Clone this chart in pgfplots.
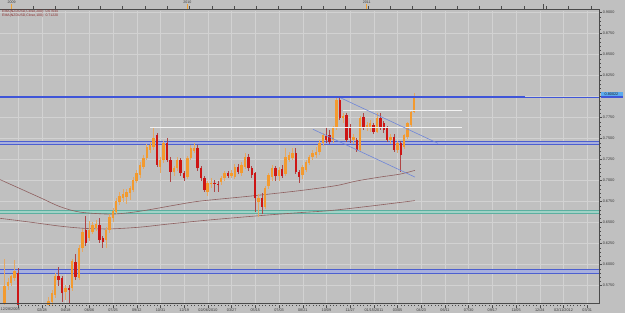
\documentclass[border=0pt]{standalone}
\usepackage{fontspec}
\setmainfont{Liberation Sans}
\usepackage{pgfplots}
\pgfplotsset{compat=1.18}
\usepackage{pgfplotstable}
\definecolor{bgc}{HTML}{C0C0C0}
\definecolor{gridc}{HTML}{D2D2D2}
\definecolor{framec}{HTML}{4A4A4A}
\definecolor{labc}{HTML}{3A3A3A}
\definecolor{bodybull}{HTML}{F39A2E}
\definecolor{wickbull}{HTML}{E6A862}
\definecolor{bodybear}{HTML}{CD1515}
\definecolor{wickbear}{HTML}{B04545}
\definecolor{mac}{HTML}{8E5F5F}
\definecolor{chanc}{HTML}{6F86D9}
\definecolor{bandline}{HTML}{4C5FD0}
\definecolor{bandfill}{HTML}{A8B0DD}
\definecolor{tealline}{HTML}{5CAFA0}
\definecolor{tealfill}{HTML}{A0D2C6}
\definecolor{thickblue}{HTML}{3F55D8}
\definecolor{whitel}{HTML}{F2F2F2}
\definecolor{legc}{HTML}{8A2B2B}
\definecolor{yearc}{HTML}{F0A030}
\definecolor{pricebox}{HTML}{5AAAEE}

\pgfplotstableread{
k o h l c
0 0.553 0.607 0.548 0.574
1 0.574 0.584 0.570 0.579
2 0.578 0.588 0.574 0.586
3 0.584 0.606 0.580 0.592
6 0.515 0.530 0.505 0.525
8 0.505 0.520 0.495 0.510
10 0.500 0.525 0.490 0.520
11 0.520 0.540 0.515 0.535
12 0.535 0.550 0.530 0.545
13 0.545 0.562 0.540 0.557
14 0.556 0.570 0.550 0.566
15 0.564 0.590 0.560 0.5865
18 0.5679 0.576 0.558 0.5726
20 0.5718 0.607 0.568 0.6044
22 0.5845 0.623 0.582 0.6202
23 0.6194 0.642 0.615 0.6393
25 0.6313 0.652 0.628 0.6413
26 0.6393 0.651 0.636 0.6473
27 0.6440 0.653 0.640 0.6480
30 0.6294 0.645 0.620 0.6413
31 0.6413 0.660 0.638 0.6571
32 0.6550 0.667 0.651 0.6640
33 0.6630 0.679 0.660 0.6760
34 0.6750 0.686 0.671 0.6820
35 0.6790 0.690 0.674 0.6840
36 0.6810 0.690 0.672 0.6870
37 0.6850 0.694 0.677 0.6910
38 0.6890 0.704 0.686 0.7010
39 0.7000 0.713 0.697 0.7090
40 0.7068 0.722 0.703 0.7187
41 0.7167 0.730 0.714 0.7266
42 0.7270 0.743 0.724 0.7400
43 0.7365 0.746 0.733 0.7425
44 0.7405 0.7631 0.737 0.7512
46 0.7167 0.728 0.7087 0.7246
47 0.7246 0.747 0.721 0.7444
50 0.7107 0.717 0.705 0.7147
51 0.7147 0.728 0.712 0.7246
54 0.7048 0.729 0.702 0.7266
55 0.7266 0.742 0.724 0.7385
56 0.7350 0.745 0.733 0.7390
60 0.6869 0.700 0.682 0.6968
61 0.6955 0.703 0.691 0.6975
64 0.6988 0.706 0.695 0.7027
65 0.7027 0.712 0.700 0.7087
67 0.7060 0.713 0.703 0.7090
68 0.7048 0.720 0.702 0.7167
70 0.7087 0.722 0.706 0.7187
71 0.7167 0.7325 0.714 0.7286
75 0.6740 0.684 0.657 0.6789
77 0.6690 0.694 0.666 0.6909
78 0.6930 0.709 0.690 0.7068
79 0.7048 0.718 0.700 0.7147
81 0.7050 0.716 0.700 0.7130
83 0.7080 0.7385 0.706 0.7286
84 0.7246 0.734 0.722 0.7306
85 0.7266 0.739 0.724 0.7325
88 0.7068 0.719 0.702 0.7167
89 0.7127 0.725 0.710 0.7226
90 0.7206 0.731 0.718 0.7286
91 0.7286 0.737 0.725 0.7330
92 0.7310 0.740 0.727 0.7345
93 0.7345 0.748 0.731 0.7444
94 0.7444 0.7563 0.741 0.7544
97 0.7484 0.765 0.745 0.7623
98 0.7623 0.7988 0.760 0.7960
100 0.7742 0.781 0.768 0.7770
103 0.7484 0.756 0.744 0.7524
105 0.7365 0.777 0.735 0.7742
107 0.7623 0.770 0.759 0.7663
108 0.7623 0.772 0.758 0.7682
110 0.7583 0.7802 0.757 0.7742
114 0.7484 0.755 0.744 0.7520
116 0.7365 0.747 0.733 0.7444
118 0.7405 0.756 0.738 0.7544
119 0.7524 0.770 0.750 0.7682
120 0.7663 0.784 0.764 0.7821
121 0.7821 0.8042 0.780 0.7980
}\bull

\pgfplotstableread{
k o h l c
4 0.590 0.596 0.530 0.536
5 0.536 0.545 0.505 0.515
7 0.525 0.530 0.500 0.505
9 0.510 0.515 0.490 0.500
16 0.5865 0.597 0.575 0.5817
17 0.5837 0.586 0.556 0.5658
19 0.5726 0.576 0.554 0.5700
21 0.6036 0.6123 0.582 0.5857
24 0.6413 0.658 0.622 0.6254
28 0.6473 0.655 0.626 0.6294
29 0.6313 0.634 0.620 0.6274
45 0.7544 0.757 0.716 0.7187
48 0.7444 0.7504 0.722 0.7246
49 0.7246 0.728 0.6988 0.7107
52 0.7246 0.727 0.706 0.7087
53 0.7087 0.712 0.699 0.7030
57 0.7393 0.742 0.712 0.7147
58 0.7147 0.717 0.699 0.7027
59 0.7027 0.705 0.686 0.6889
62 0.6975 0.701 0.686 0.6960
63 0.6965 0.700 0.686 0.6950
66 0.7087 0.711 0.703 0.7060
69 0.7167 0.720 0.708 0.7107
72 0.7286 0.732 0.712 0.7147
73 0.7147 0.717 0.703 0.7068
74 0.7087 0.7105 0.663 0.6789
76 0.6789 0.685 0.660 0.6690
80 0.7147 0.717 0.700 0.7060
82 0.7140 0.718 0.703 0.7060
86 0.7325 0.7385 0.708 0.7107
87 0.7107 0.713 0.697 0.7048
95 0.7532 0.7643 0.7444 0.7484
96 0.7544 0.760 0.743 0.7464
99 0.7960 0.7985 0.772 0.7742
101 0.7782 0.780 0.746 0.7484
102 0.7643 0.767 0.745 0.7504
104 0.7484 0.751 0.734 0.7365
106 0.7762 0.781 0.760 0.7623
109 0.7663 0.769 0.755 0.7583
111 0.7742 0.7802 0.760 0.7623
112 0.7682 0.771 0.757 0.7603
113 0.7623 0.765 0.746 0.7484
115 0.7524 0.755 0.734 0.7365
117 0.7444 0.747 0.7100 0.7306
}\bear

\pgfplotsset{candle/.style={only marks, mark=*, mark size=0pt,
  mark options={draw opacity=0, fill opacity=0}, forget plot}}

\begin{document}
\begin{tikzpicture}[x=1bp,y=1bp]
\fill[bgc] (0,0) rectangle (625,313);
\useasboundingbox (0,0) rectangle (625,313);
\begin{axis}[
  at={(0,10)}, anchor=south west, scale only axis,
  width=599bp, height=294bp,
  xmin=-1.329, xmax=175.55, ymin=0.55238, ymax=0.90238,
  axis line style={draw=none},
  xtick pos=left, ytick pos=right, yticklabel pos=right,
  tick align=outside,
  major tick length=3bp, minor tick length=1.6bp,
  tick style={framec, line width=0.45bp},
  minor x tick num=6, minor y tick num=4,
  xtick={4.07,11.07,18.07,25.07,32.07,39.07,46.07,53.07,60.07,67.07,74.07,81.07,88.07,95.07,102.07,109.07,116.07,123.07,130.07,137.07,144.07,151.07,158.07,165.07,172.07},
  xticklabels={,02/28,04/18,06/06,07/25,09/12,10/31,12/19,02/06/2010,03/27,05/15,07/03,08/21,10/09,11/27,01/15/2011,03/05,04/23,06/11,07/30,09/17,11/05,12/24,02/11/2012,03/31},
  ytick={0.575,0.6,0.625,0.65,0.675,0.7,0.725,0.75,0.775,0.8,0.825,0.85,0.875,0.9},
  yticklabels={0.5750,0.6000,0.6250,0.6500,0.6750,0.7000,0.7250,0.7500,0.7750,,0.8250,0.8500,0.8750,0.9000},
  x tick label style={font=\fontsize{3.8}{4}\selectfont, text=labc, inner sep=0.6bp},
  y tick label style={font=\fontsize{3.8}{4}\selectfont, text=labc, inner sep=0.6bp, anchor=west},
  xmajorgrids, ymajorgrids,
  major grid style={gridc, line width=0.5bp},
]
% bands
\addplot[fill=bandfill, draw=none, forget plot] coordinates {(-5,0.7432) (200,0.7432) (200,0.7473) (-5,0.7473)} -- cycle;
\addplot[bandline, line width=0.6bp, forget plot] coordinates {(-5,0.7432) (200,0.7432)};
\addplot[bandline, line width=0.6bp, forget plot] coordinates {(-5,0.7473) (200,0.7473)};
\addplot[fill=tealfill, draw=none, forget plot] coordinates {(-5,0.6611) (200,0.6611) (200,0.6645) (-5,0.6645)} -- cycle;
\addplot[tealline, line width=0.6bp, forget plot] coordinates {(-5,0.6611) (200,0.6611)};
\addplot[tealline, line width=0.6bp, forget plot] coordinates {(-5,0.6645) (200,0.6645)};
\addplot[fill=bandfill, draw=none, forget plot] coordinates {(-5,0.5896) (200,0.5896) (200,0.5944) (-5,0.5944)} -- cycle;
\addplot[bandline, line width=0.6bp, forget plot] coordinates {(-5,0.5896) (200,0.5896)};
\addplot[bandline, line width=0.6bp, forget plot] coordinates {(-5,0.5944) (200,0.5944)};
% moving averages
\addplot[mac, line width=0.6bp, smooth, forget plot] coordinates {(-1.33,0.7012) (4.58,0.6905) (10.48,0.6798) (16.39,0.6690) (22.29,0.6625) (31.15,0.6601) (37.05,0.6619) (42.96,0.6655) (50.34,0.6708) (57.72,0.6756) (72.48,0.6815) (87.24,0.6881) (97.87,0.6940) (103.78,0.6994) (110.86,0.7042) (116.77,0.7077) (121.2,0.7122)};
\addplot[mac, line width=0.6bp, smooth, forget plot] coordinates {(-1.33,0.6551) (7.53,0.6506) (16.39,0.6458) (23.77,0.6431) (31.15,0.6425) (40.01,0.6446) (48.86,0.6485) (60.67,0.6532) (75.43,0.6583) (87.24,0.6619) (96.10,0.6643) (107.91,0.6696) (121.2,0.6762)};
% wicks
\addplot[candle,
  error bars/.cd, y dir=both, y explicit, error mark=none,
  error bar style={line width=0.6bp, wickbull}]
  table[x=k, y=o, y error plus expr=\thisrow{h}-\thisrow{o}, y error minus expr=\thisrow{o}-\thisrow{l}] {\bull};
\addplot[candle,
  error bars/.cd, y dir=both, y explicit, error mark=none,
  error bar style={line width=0.6bp, wickbear}]
  table[x=k, y=o, y error plus expr=\thisrow{h}-\thisrow{o}, y error minus expr=\thisrow{o}-\thisrow{l}] {\bear};
% bodies
\addplot[candle,
  error bars/.cd, y dir=plus, y explicit, error mark=none,
  error bar style={line width=2.4bp, bodybull, line cap=butt}]
  table[x=k, y=o, y error plus expr={max(\thisrow{c}-\thisrow{o},0.0009)}] {\bull};
\addplot[candle,
  error bars/.cd, y dir=plus, y explicit, error mark=none,
  error bar style={line width=2.4bp, bodybear, line cap=butt}]
  table[x=k, y=c, y error plus expr={max(\thisrow{o}-\thisrow{c},0.0009)}] {\bear};
% white support / resistance lines
\addplot[whitel, line width=1.2bp, forget plot] coordinates {(42.96,0.7635) (135.07,0.7635)};
\addplot[whitel, line width=1.2bp, forget plot] coordinates {(99.94,0.7830) (135.07,0.7830)};
% channel
\addplot[chanc, line width=0.6bp, forget plot] coordinates {(98.46,0.8000) (127.99,0.7444)};
\addplot[chanc, line width=0.6bp, forget plot] coordinates {(91.08,0.7611) (121.2,0.7042)};
% top blue line
\addplot[thickblue, line width=2.6bp, forget plot] coordinates {(-5,0.7994) (153.7,0.7994)};
\addplot[thickblue, line width=0.8bp, forget plot] coordinates {(153.7,0.7994) (200,0.7994)};
\end{axis}
% frame
\draw[framec, line width=0.8bp] (0,304) -- (599,304) -- (599,10) -- (0,10);
% top strip ticks
\foreach \j in {0,...,26} { \draw[framec, line width=0.4bp] ({11+22.3*\j},304) -- ++(0,3.2); }
\draw[framec, line width=0.6bp] (543.3,304) -- ++(0,5);
\foreach \xx/\yy in {11.7/2009,187.3/2010,366.7/2011} {
  \fill[yearc] (\xx-0.7,304) rectangle (\xx+0.7,309);
  \node[font=\fontsize{3.6}{4}\selectfont, text=labc, inner sep=0pt] at (\xx,311.2) {\yy};
}
% legend
\node[font=\fontsize{3.5}{4}\selectfont, text=legc, inner sep=0pt, anchor=west] at (2,301) {EMA(NZDUSD,Close,200): 0.67644};
\node[font=\fontsize{3.5}{4}\selectfont, text=legc, inner sep=0pt, anchor=west] at (2,297.3) {EMA(NZDUSD,Close,100): 0.71220};
% first date label
\node[font=\fontsize{3.8}{4}\selectfont, text=labc, inner sep=0pt, anchor=west] at (0.5,4.3) {12/28/2008};
% price box
\fill[pricebox] (600.5,215.3) rectangle (623,221.5);
\fill[thickblue] (600.5,215.3) rectangle (623,216.6);
\node[font=\fontsize{3.8}{4}\selectfont, text=black!85, inner sep=0pt] at (611.5,219.1) {0.80022};
\end{tikzpicture}
\end{document}
